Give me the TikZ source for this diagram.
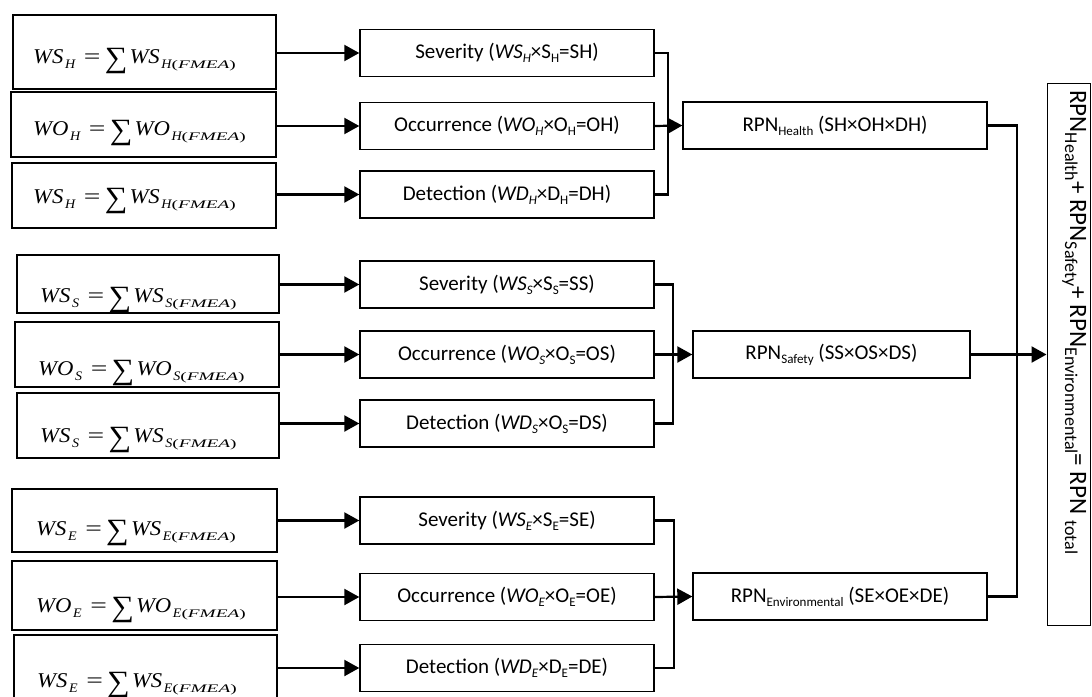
\documentclass[tikz,border=0pt]{standalone}
\usepackage{fontspec}
\setmainfont{Carlito}
\newfontfamily\tms{Liberation Serif}
\usetikzlibrary{arrows.meta}
\newcommand\sbr[2][0.62]{\raisebox{-0.2em}{\scalebox{#1}{#2}}}
\newcommand\frm[2]{\scalebox{1.08}[1]{\tms\fontsize{21}{25}\selectfont\itshape #1\hspace{1.5pt}\raisebox{-0.25em}{\scalebox{0.62}{#2}}\hspace{8pt}\upshape\scalebox{1.3}[1]{=}\hspace{4pt}\raisebox{-0.22em}{\scalebox{1.4}{∑}}\hspace{2pt}\itshape #1\hspace{1.5pt}\raisebox{-0.25em}{\scalebox{0.62}{#2}\scalebox{0.85}[0.55]{\upshape(\itshape FMEA\upshape)}}}}
\begin{document}
\begin{tikzpicture}[x=1pt,y=-1pt,
  box/.style={draw, line width=1.4pt, inner sep=0pt, minimum width=#1},
  lbox/.style={box=#1},
  mbox/.style={box=294pt, minimum height=47pt, font=\fontsize{21}{25}\selectfont},
  ftxt/.style={anchor=base west, inner sep=0pt},
  con/.style={line width=2.2pt},
  arr/.style={con, -{Triangle[length=15pt,width=16pt]}}]
\useasboundingbox (0,0) rectangle (1092,696);
% left boxes
\node[lbox=263pt, minimum height=74pt] (L1) at (144.5,52) {};
\node[lbox=265pt, minimum height=65pt] (L2) at (143.5,124.5) {};
\node[lbox=264pt, minimum height=65pt] (L3) at (144,195.5) {};
\node[lbox=262pt, minimum height=58pt] (L4) at (148,284) {};
\node[lbox=264pt, minimum height=65pt] (L5) at (147,354.5) {};
\node[lbox=262pt, minimum height=65pt] (L6) at (148,425.5) {};
\node[lbox=265pt, minimum height=63pt] (L7) at (144.5,520.5) {};
\node[lbox=265pt, minimum height=69pt] (L8) at (144.5,595.5) {};
\node[lbox=263pt, minimum height=70pt] (L9) at (145.5,670) {};
% formulas
\node[ftxt] (f1) at (33,63) {\frm{WS}{H}};
\node[ftxt] (f2) at (33,135) {\frm{WO}{H}};
\node[ftxt] (f3) at (33,203) {\frm{WS}{H}};
\node[ftxt] (f4) at (40,302) {\frm{WS}{S}};
\node[ftxt] (f5) at (38,375) {\frm{WO}{S}};
\node[ftxt] (f6) at (40,442) {\frm{WS}{S}};
\node[ftxt] (f7) at (36,535) {\frm{WS}{E}};
\node[ftxt] (f8) at (36,612) {\frm{WO}{E}};
\node[ftxt] (f9) at (37,687) {\frm{WS}{E}};
% middle boxes
\node[mbox] (M1) at (507,53) {Severity (\textit{WS}\sbr{\textit{H}}×S\sbr{H}=SH)};
\node[mbox] (M2) at (507,126) {Occurrence (\textit{WO}\sbr{\textit{H}}×O\sbr{H}=OH)};
\node[mbox] (M3) at (507,194.5) {Detection (\textit{WD}\sbr{\textit{H}}×D\sbr{H}=DH)};
\node[mbox] (M4) at (507,284.5) {Severity (\textit{WS}\sbr{\textit{S}}×S\sbr{S}=SS)};
\node[mbox] (M5) at (507,354.5) {Occurrence (\textit{WO}\sbr{\textit{S}}×O\sbr{S}=OS)};
\node[mbox] (M6) at (507,423.5) {Detection (\textit{WD}\sbr{\textit{S}}×O\sbr{S}=DS)};
\node[mbox] (M7) at (507,520.5) {Severity (\textit{WS}\sbr{\textit{E}}×S\sbr{E}=SE)};
\node[mbox] (M8) at (507,597) {Occurrence (\textit{WO}\sbr{\textit{E}}×O\sbr{E}=OE)};
\node[mbox] (M9) at (507,668) {Detection (\textit{WD}\sbr{\textit{E}}×D\sbr{E}=DE)};
% RPN boxes
\node[mbox, minimum width=304pt] (R1) at (835,125.5) {RPN\sbr{Health} (SH×OH×DH)};
\node[mbox, minimum width=277pt] (R2) at (831.5,354.5) {RPN\sbr{Safety} (SS×OS×DS)};
\node[mbox, minimum width=294pt] (R3) at (840,596.5) {RPN\sbr{Environmental} (SE×OE×DE)};
% final box
\node[draw, line width=1pt, minimum width=43pt, minimum height=542pt, inner sep=0pt] (F) at (1068.5,354) {};
\node[anchor=base west, rotate=-90, inner sep=0pt, font=\fontsize{25}{30}\selectfont] (T) at (1070,90)
  {RPN\sbr[0.72]{Health}+ RPN\sbr[0.72]{Safety}+ RPN\sbr[0.72]{Environmental}= RPN \sbr[0.72]{total}};
% connectors left -> middle
\foreach \l/\m in {L1/M1,L2/M2,L3/M3,L4/M4,L5/M5,L6/M6,L7/M7,L8/M8,L9/M9}
  \draw[arr] (\l.east |- \m.west) -- (\m.west);
% brackets
\coordinate (bH) at (668,0);
\coordinate (bS) at (673,0);
\coordinate (bE) at (674,0);
\draw[con] (M1.east) -- (bH |- M1.east) -- (bH |- M3.east) -- (M3.east);
\draw[arr] (M2.east) -- (R1.west);
\draw[con] (M4.east) -- (bS |- M4.east) -- (bS |- M6.east) -- (M6.east);
\draw[arr] (M5.east) -- (R2.west);
\draw[con] (M7.east) -- (bE |- M7.east) -- (bE |- M9.east) -- (M9.east);
\draw[arr] (M8.east) -- (R3.west);
% right side
\coordinate (vx) at (1017,0);
\draw[con] (R1.east) -- (vx |- R1.east) -- (vx |- R3.east) -- (R3.east);
\draw[arr] (R2.east) -- (F.west |- R2.east);
\end{tikzpicture}
\end{document}
